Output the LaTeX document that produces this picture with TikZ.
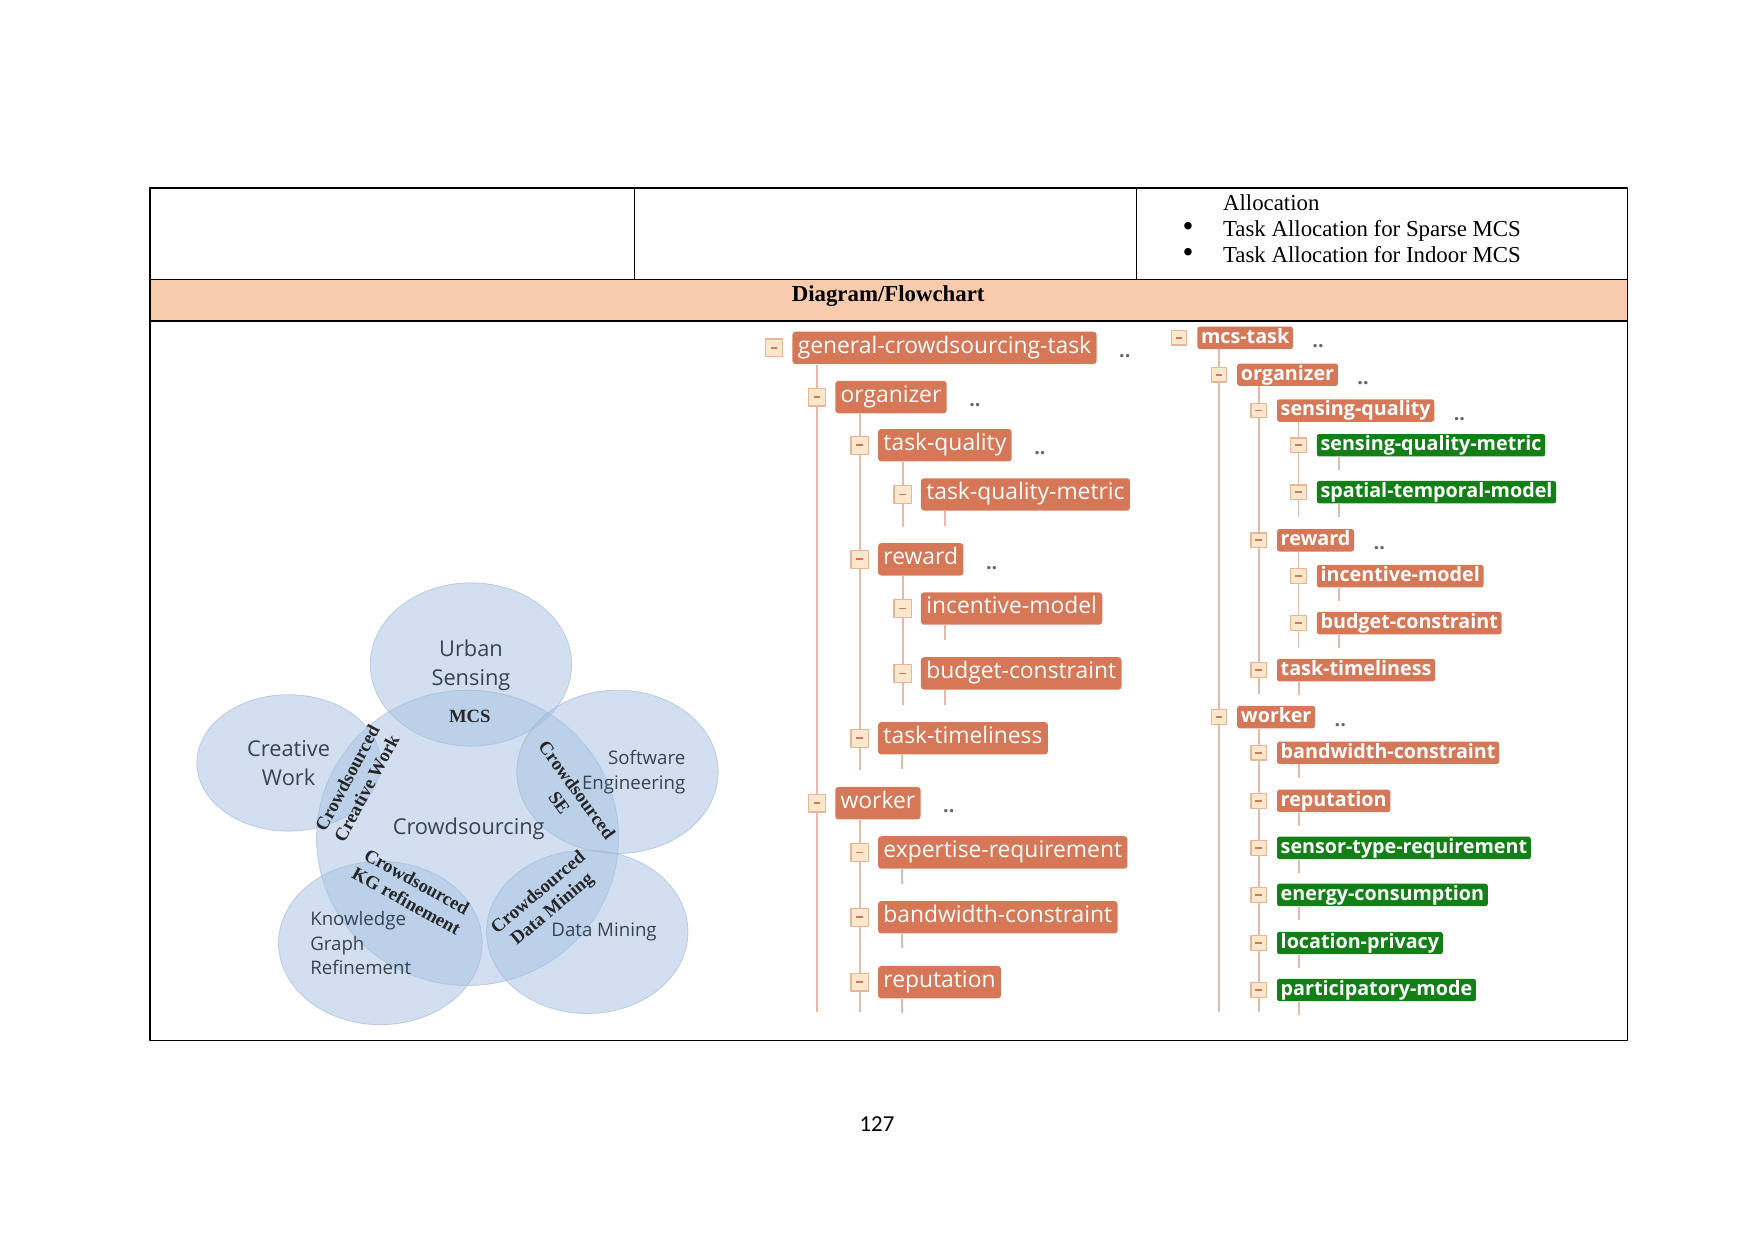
\documentclass[tikz,border=0pt]{standalone}
\usepackage{fontspec}
\setmainfont{Liberation Serif}
\newfontfamily\treefont{Open Sans}
\newfontfamily\vennfont{Open Sans}
\newfontfamily\pagefont{Carlito}
\usepackage{tikz}
\usetikzlibrary{calc,positioning,backgrounds}
\usepackage{xcolor}
\definecolor{headpeach}{RGB}{248,203,173}
\definecolor{boxsalmon}{RGB}{214,120,88}
\definecolor{boxgreen}{RGB}{18,128,22}
\definecolor{branchpink}{RGB}{232,186,170}
\definecolor{togglefill}{RGB}{252,230,204}
\definecolor{toggleedge}{RGB}{232,182,150}
\definecolor{vennblue}{RGB}{165,192,226}
\definecolor{vennedge}{RGB}{160,182,212}
\definecolor{venntext}{RGB}{58,66,80}

\begin{document}
\begin{tikzpicture}[x=0.18941mm,y=-0.18941mm,line join=round,
  rule/.style={line width=0.6pt},
  cell/.style={font=\fontsize{11}{13}\selectfont,inner sep=0pt,text height=0.68em,text depth=0.2em},
  venn/.style={fill=vennblue,fill opacity=0.5,draw=vennedge,draw opacity=0.6,line width=0.4pt},
  vlab/.style={font=\vennfont\fontsize{10.5}{14}\selectfont,text=venntext,align=center,inner sep=0pt},
  vsmall/.style={font=\vennfont\fontsize{9}{11.8}\selectfont,text=venntext,inner sep=0pt},
  vser/.style={font=\bfseries\fontsize{9}{10.5}\selectfont,text=black!85,align=center,inner sep=0pt},
  item/.style={anchor=west,text=white,rounded corners=1.5pt,inner xsep=2.6pt,inner ysep=0pt,
    minimum height=15.6pt,text height=0.74em,text depth=0.22em,font=\treefont\fontsize{11}{13}\selectfont},
  sitem/.style={anchor=west,text=white,rounded corners=1.2pt,inner xsep=1.8pt,inner ysep=0pt,
    minimum height=10.8pt,text height=0.72em,text depth=0.2em,font=\treefont\bfseries\fontsize{9.5}{11}\selectfont},
  toggle/.style={draw=toggleedge,fill=togglefill,line width=0.6pt,minimum width=8.4pt,minimum height=8.6pt,inner sep=0pt,
    path picture={\draw[boxsalmon,line width=0.8pt] ([xshift=-1.6pt]path picture bounding box.center) -- ++(3.2pt,0);}},
  stoggle/.style={toggle,minimum width=7.4pt,minimum height=7pt},
  branch/.style={draw=branchpink,line width=1pt},
  sbranch/.style={draw=branchpink,line width=0.8pt},
  dots/.style={font=\treefont\bfseries\fontsize{9.5}{10}\selectfont,text=black!60,inner sep=0pt}]
  \useasboundingbox (0,0) rectangle (1568,1109);

  % table frame
  \fill[headpeach] (134,250) rectangle (1455,287);
  \draw[rule] (134,168) rectangle (1455,930);
  \draw[rule] (134,250) -- (1455,250) (134,287) -- (1455,287);
  \draw[rule] (567,168) -- (567,250) (1016,168) -- (1016,250);
  \node[cell,anchor=west] (alloc) at (1093,184) {Allocation};
  \node[cell,anchor=west] (sparse) at (1093,207) {Task Allocation for Sparse MCS};
  \node[cell,anchor=west] (indoor) at (1093,230) {Task Allocation for Indoor MCS};
  \foreach \b/\y in {bsparse/205,bindoor/228} \node[font=\fontsize{15}{15}\selectfont,inner sep=0pt] (\b) at (1062,\y) {\textbullet};
  \node[font=\bfseries\fontsize{11}{13}\selectfont,inner sep=0pt,text height=0.68em,text depth=0.2em] (head) at (794,265) {Diagram/Flowchart};
  \node[font=\pagefont\fontsize{11}{13}\selectfont,inner sep=0pt] (pgno) at (784,1005) {127};

  % crowdsourcing circles
  \foreach \cx/\cy/\rx/\ry in {421/594/90/73, 418/749/135/132, 258/682/82/61, 552/690/90/73, 340/843/91/73, 525/833/90/73}
    \filldraw[venn] (\cx,\cy) ellipse [x radius=\rx, y radius=\ry];
  \node[vlab] (urban) at (421,595) {Urban\\Sensing};
  \node[vlab] (creative) at (258,682) {Creative\\Work};
  \node[vlab] (crowd) at (419,741) {Crowdsourcing};
  \node[vsmall,align=right,anchor=east] (soft) at (613,690) {Software\\Engineering};
  \node[vsmall,align=left,anchor=west] (kgr) at (277,843) {Knowledge\\Graph\\Refinement};
  \node[vsmall] (mining) at (540,833) {Data Mining};
  \node[vser] (mcs) at (420,640) {MCS};
  \node[vser,rotate=62] (ccw) at (319,700) {Crowdsourced\\Creative Work};
  \node[vser,rotate=-54] (cse) at (508,712) {Crowdsourced\\SE};
  \node[vser,rotate=-29] (ckg) at (368,797) {Crowdsourced\\KG refinement};
  \node[vser,rotate=40] (cdm) at (488,806) {Crowdsourced\\Data Mining};

  % general task tree
  \foreach \nm/\lv/\y/\t in {gct/0/311/general-crowdsourcing-task, org/1/355/organizer, tq/2/398/task-quality,
      tqm/3/442/task-quality-metric, rw/2/500/reward, im/3/544/incentive-model, bc/3/602/budget-constraint,
      tt/2/660/task-timeliness, wk/1/718/worker, er/2/762/expertise-requirement, bw/2/820/bandwidth-constraint,
      rp/2/878/reputation} {
    \node[toggle] (t\nm) at ({692+38.3*\lv},\y) {};
    \node[item,fill=boxsalmon] (\nm) at ({708+38.3*\lv},\y) {\t};
  }
  \begin{scope}[on background layer]
    \foreach \p/\c/\e in {gct/org/905, org/tq/688, tq/tqm/471, rw/im/630, wk/er/905}
      \draw[branch] (\p.south -| t\c.center) -- (t\c.center |- 0,\e);
    \foreach \nm in {tqm,im,bc,tt,er,bw,rp}
      \draw[branch] ([xshift=11.8pt]\nm.south west) -- ++(0,13);
  \end{scope}
  \foreach \nm in {gct,org,tq,rw,wk} \node[dots,anchor=west] (d\nm) at ([xshift=10.5pt,yshift=-4pt]\nm.east) {..};

  % mcs task tree
  \foreach \nm/\lv/\y/\t/\c in {mt/0/302/mcs-task/boxsalmon, ro/1/335/organizer/boxsalmon, sq/2/367/sensing-quality/boxsalmon,
      sqm/3/398/sensing-quality-metric/boxgreen, stm/3/440/spatial-temporal-model/boxgreen, rr/2/483/reward/boxsalmon,
      rim/3/515/incentive-model/boxsalmon, rbc/3/557/budget-constraint/boxsalmon, rtt/2/599/task-timeliness/boxsalmon,
      rwk/1/641/worker/boxsalmon, rbw/2/673/bandwidth-constraint/boxsalmon, rrp/2/716/reputation/boxsalmon,
      str/2/758/sensor-type-requirement/boxgreen, ec/2/800/energy-consumption/boxgreen, lp/2/843/location-privacy/boxgreen,
      pm/2/885/participatory-mode/boxgreen} {
    \node[stoggle] (t\nm) at ({1054+35.6*\lv},\y) {};
    \node[sitem,fill=\c] (\nm) at ({1070+35.6*\lv},\y) {\t};
  }
  \begin{scope}[on background layer]
    \foreach \p/\c/\e in {mt/ro/905, ro/sq/620, sq/sqm/462, rr/rim/579, rwk/rbw/905}
      \draw[sbranch] (\p.south -| t\c.center) -- (t\c.center |- 0,\e);
    \foreach \nm in {sqm,stm,rim,rbc,rtt,rbw,rrp,str,ec,lp,pm}
      \draw[sbranch] ([xshift=10.8pt]\nm.south west) -- ++(0,12);
  \end{scope}
  \foreach \nm in {mt,ro,sq,rr,rwk} \node[dots,anchor=west] (d\nm) at ([xshift=9pt,yshift=-4pt]\nm.east) {..};
\end{tikzpicture}
\end{document}
